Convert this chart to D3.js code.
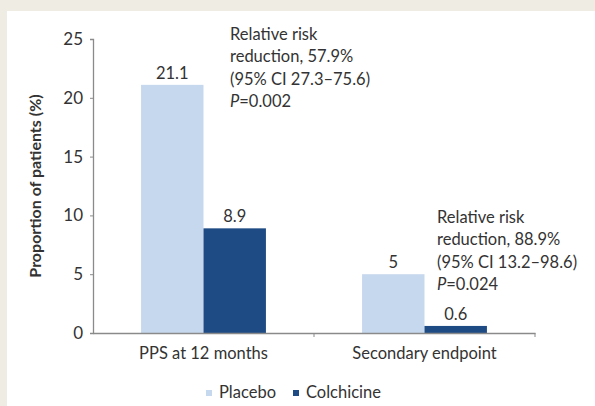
<!DOCTYPE html>
<html>
<head>
<meta charset="utf-8">
<script src="https://cdn.jsdelivr.net/npm/d3@7"></script>
<style>
  body { margin: 0; background: #efece3; }
  text { font-family: Lato, "Open Sans", sans-serif; fill: #333333; }
</style>
</head>
<body>
<div id="plot"></div>
<script>
// chart data
var categories = ["PPS at 12 months", "Secondary endpoint"];
var series = ["Placebo", "Colchicine"];
var placebo_values = [21.1, 5];
var colchicine_values = [8.9, 0.6];
var value_labels = [["21.1", "8.9"], ["5", "0.6"]];
var y_ticks = [0, 5, 10, 15, 20, 25];
var note_lines = [
    ["Relative risk", "reduction, 57.9%", "(95% CI 27.3\u201375.6)", "=0.002"],
    ["Relative risk", "reduction, 88.9%", "(95% CI 13.2\u201398.6)", "=0.024"]
];

var colors = {"Placebo": "#c6d8ed", "Colchicine": "#1f4b84"};

const total_width = 595
const total_height = 406
const fs = 16.5

var svg = d3.select("#plot").append("svg").attr("width", total_width).attr("height", total_height)
    .style("display", "block");

// white panel over beige page
svg.append("rect").attr("x", 7).attr("y", 11).attr("width", total_width - 7).attr("height", total_height - 11).style("fill", "#ffffff");

var left = 93, right = 535, top_y = 39, bottom_y = 333;

var x0 = d3.scaleBand().domain(categories).range([left, right]).paddingInner(0).paddingOuter(0);
var x1 = d3.scaleBand().domain(series).range([0, x0.bandwidth()]).paddingInner(0).paddingOuter(0.77);
var y = d3.scaleLinear().domain([0, 25]).range([bottom_y, top_y]);

var rows = categories.map(function(c, i) {
    return {cat: c, vals: [
        {s: "Placebo", v: placebo_values[i], label: value_labels[i][0]},
        {s: "Colchicine", v: colchicine_values[i], label: value_labels[i][1]}
    ]};
});

// bars
var groups = svg.selectAll(".grp").data(rows).enter().append("g")
    .attr("transform", function(d) {return "translate(" + x0(d.cat) + ",0)"});

groups.selectAll("rect").data(function(d) {return d.vals}).enter().append("rect")
    .attr("x", function(d) {return x1(d.s)})
    .attr("y", function(d) {return y(d.v)})
    .attr("width", x1.bandwidth())
    .attr("height", function(d) {return y(0) - y(d.v)})
    .style("fill", function(d) {return colors[d.s]});

groups.selectAll(".val").data(function(d) {return d.vals}).enter().append("text")
    .attr("x", function(d) {return x1(d.s) + x1.bandwidth() / 2})
    .attr("y", function(d) {return y(d.v) - 6})
    .attr("text-anchor", "middle").attr("font-size", fs)
    .text(function(d) {return d.label});

// y axis
var yAxis = d3.axisLeft(y).tickValues(y_ticks).tickSize(3).tickPadding(7);
var gy = svg.append("g").attr("transform", "translate(" + left + ",0)").call(yAxis);
gy.select(".domain").attr("stroke", "#8a8a8a").attr("stroke-width", 1.3);
gy.selectAll(".tick line").attr("stroke", "#8a8a8a");
gy.selectAll(".tick text").style("font-family", "Lato, sans-serif").attr("font-size", 17).style("fill", "#333333");

// x axis
var xAxis = d3.axisBottom(x0).tickSize(0).tickPadding(14);
var gx = svg.append("g").attr("transform", "translate(0," + bottom_y + ")").call(xAxis);
gx.select(".domain").attr("stroke", "#8a8a8a").attr("stroke-width", 1.3);
gx.selectAll(".tick text").style("font-family", "Lato, sans-serif").attr("font-size", fs).style("fill", "#333333");
gx.selectAll(".sep").data(categories).enter().append("line")
    .attr("x1", function(d) {return x0(d) + x0.bandwidth()})
    .attr("x2", function(d) {return x0(d) + x0.bandwidth()})
    .attr("y1", 0).attr("y2", 4).attr("stroke", "#8a8a8a");

// y title
svg.append("text").attr("transform", "translate(41,186) rotate(-90)")
    .attr("text-anchor", "middle").attr("font-size", 16).attr("font-weight", "bold")
    .text("Proportion of patients (%)");

// annotations
var note_pos = [[230, 40], [437, 223]];
note_lines.forEach(function(lines, k) {
    var t = svg.append("text").attr("font-size", fs);
    lines.forEach(function(line, j) {
        var ts = t.append("tspan").attr("x", note_pos[k][0]).attr("y", note_pos[k][1] + j * 22.3);
        if (j === 3) {
            ts.append("tspan").style("font-style", "italic").text("P");
            ts.append("tspan").text(line);
        } else {
            ts.text(line);
        }
    });
});

// legend
var legend_x = [206, 293];
var lg = svg.selectAll(".lg").data(series).enter().append("g")
    .attr("transform", function(d, i) {return "translate(" + legend_x[i] + ",390)"});
lg.append("rect").attr("width", 6).attr("height", 6).attr("y", 0)
    .style("fill", function(d) {return colors[d]});
lg.append("text").attr("x", 13).attr("y", 8).attr("font-size", fs).text(function(d) {return d});
</script>
</body>
</html>
